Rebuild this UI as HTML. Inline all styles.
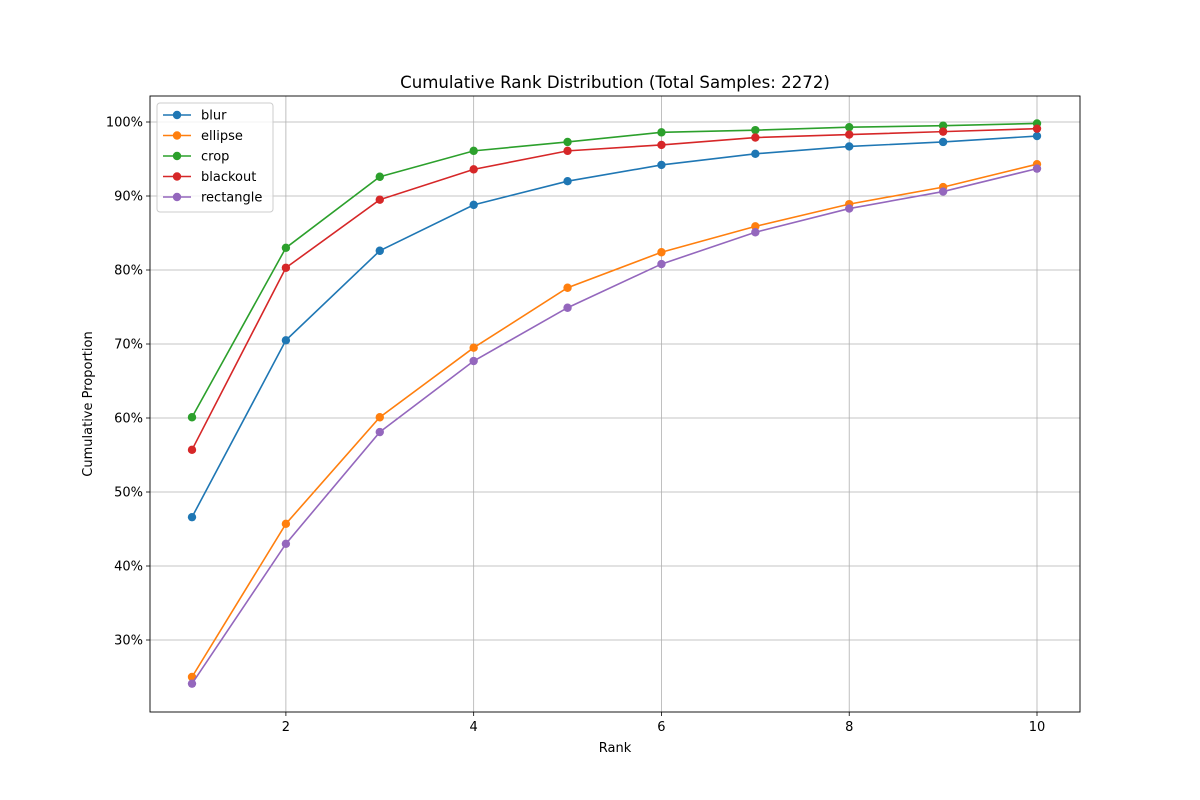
<!DOCTYPE html>
<html><head><meta charset="utf-8"><style>
html,body{margin:0;padding:0;background:#fff;}
svg{display:block;font-family:"DejaVu Sans","Liberation Sans",sans-serif;}
</style></head><body>
<svg id="chart" width="1200" height="800" xmlns="http://www.w3.org/2000/svg"></svg>
<script>
const ranks = [1,2,3,4,5,6,7,8,9,10];
const blur = [46.6,70.5,82.6,88.8,92.0,94.2,95.7,96.7,97.3,98.1];
const ellipse = [25.0,45.7,60.1,69.5,77.6,82.4,85.9,88.9,91.2,94.3];
const crop = [60.1,83.0,92.6,96.1,97.3,98.6,98.9,99.3,99.5,99.8];
const blackout = [55.7,80.3,89.5,93.6,96.1,96.9,97.9,98.3,98.7,99.1];
const rectangle = [24.1,43.0,58.1,67.7,74.9,80.8,85.1,88.3,90.6,93.7];
const xTicks = [2,4,6,8,10];
const yTicks = [30,40,50,60,70,80,90,100];
const seriesNames = ["blur","ellipse","crop","blackout","rectangle"];
const seriesColors = ["#1f77b4","#ff7f0e","#2ca02c","#d62728","#9467bd"];

const L=150,R=1080,T=96,B=712;
const xs = v => 192 + (v-1)*(1037-192)/9;
const ys = v => 122 + (100-v)*(640-122)/70;
const svg=document.getElementById('chart');
const NS="http://www.w3.org/2000/svg";
function mk(tag,attrs,parent){const e=document.createElementNS(NS,tag);for(const k in attrs)e.setAttribute(k,attrs[k]);(parent||svg).appendChild(e);return e;}

const grid=mk('g',{});


xTicks.forEach(t=>{
  const l=mk('line',{x1:xs(t),x2:xs(t),y1:T,y2:B,stroke:'#b0b0b0','stroke-width':0.8},grid);
  
  
  mk('line',{x1:xs(t),x2:xs(t),y1:B,y2:B+4,stroke:'#000','stroke-width':0.8});
  const tx=mk('text',{x:xs(t),y:B+19,'text-anchor':'middle','font-size':13});
  tx.textContent=t;
  
  
});
yTicks.forEach(t=>{
  const l=mk('line',{x1:L,x2:R,y1:ys(t),y2:ys(t),stroke:'#b0b0b0','stroke-width':0.8},grid);
  
  
  mk('line',{x1:L-4,x2:L,y1:ys(t),y2:ys(t),stroke:'#000','stroke-width':0.8});
  const tx=mk('text',{x:L-7,y:ys(t)+4.5,'text-anchor':'end','font-size':13});
  tx.textContent=t+'%';
  
  
});

const allSeries=[blur,ellipse,crop,blackout,rectangle];
allSeries.forEach((s,i)=>{
  const g=mk('g',{});
  
  
  const pts=s.map((v,j)=>xs(ranks[j])+','+ys(v)).join(' ');
  const pl=mk('polyline',{points:pts,fill:'none',stroke:seriesColors[i],'stroke-width':1.6},g);
  
  
  s.forEach((v,j)=>{
    const c=mk('circle',{cx:xs(ranks[j]),cy:ys(v),r:4.2,fill:seriesColors[i]},g);
    
    
  });
});

const frame=mk('rect',{x:L,y:T,width:R-L,height:B-T,fill:'none',stroke:'#000','stroke-width':0.9});



const title=mk('text',{x:615,y:88,'text-anchor':'middle','font-size':16.6});
title.textContent='Cumulative Rank Distribution (Total Samples: 2272)';


const xl=mk('text',{x:615,y:752,'text-anchor':'middle','font-size':13});
xl.textContent='Rank';


const yl=mk('text',{x:92,y:404,'text-anchor':'middle','font-size':13,transform:'rotate(-90 92 404)'});
yl.textContent='Cumulative Proportion';



const lg=mk('g',{});


mk('rect',{x:157,y:103,width:116,height:109,rx:3,fill:'#fff','fill-opacity':0.8,stroke:'#ccc'},lg);
seriesNames.forEach((n,i)=>{
  const y=115+i*20.5;
  const e=mk('g',{},lg);
  
  
  mk('line',{x1:163,x2:191,y1:y,y2:y,stroke:seriesColors[i],'stroke-width':1.6},e);
  mk('circle',{cx:177,cy:y,r:4.2,fill:seriesColors[i]},e);
  const t=mk('text',{x:201,y:y+4.5,'font-size':13},e);
  t.textContent=n;
});
</script>
</body></html>
